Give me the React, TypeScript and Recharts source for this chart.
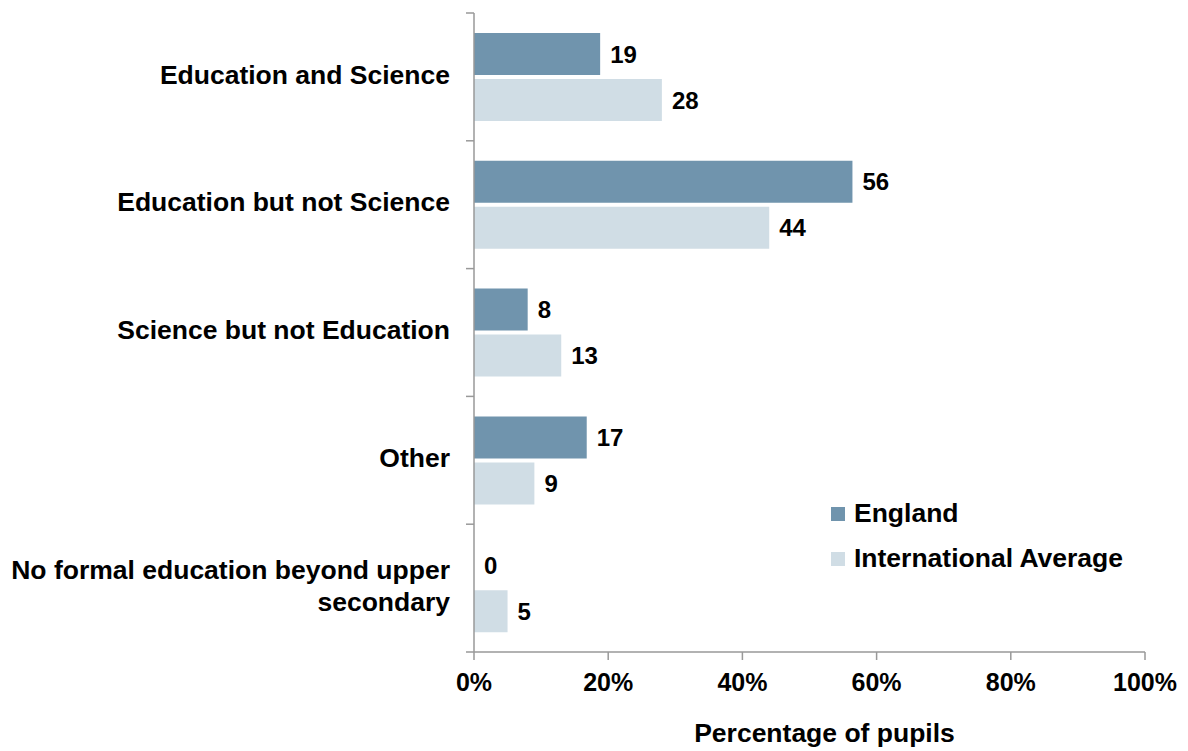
import React from 'react';
import { BarChart, Bar, XAxis, YAxis, LabelList } from 'recharts';

const categories = [
  'Education and Science',
  'Education but not Science',
  'Science but not Education',
  'Other',
  'No formal education beyond upper\nsecondary',
];
const england = [18.8, 56.4, 8, 16.8, 0];
const international = [28, 44, 13, 9, 5];
const xTicks = [0, 20, 40, 60, 80, 100];
const seriesNames = ['England', 'International Average'];
const colors = ['#7094AD', '#D0DDE5'];

const data = categories.map((c, i) => ({ name: c, england: england[i], intl: international[i] }));

const FONT = '"Liberation Sans", Arial, sans-serif';
const AXIS = '#999999';
const WORD_SIZE = 26.5;
const NUM_SIZE = 24;

const YTick = (props: any) => {
  const { x, y, payload, index } = props;
  const off = payload && typeof payload.offset === 'number' ? payload.offset : 64;
  const lines = String(payload.value).split('\n');
  const lh = 32;
  const startY = y - ((lines.length - 1) * lh) / 2;
  return (
    <g>
      <line x1={x + 2} x2={x + 10} y1={y - off} y2={y - off} stroke={AXIS} strokeWidth={1.5} />
      {index === categories.length - 1 && (
        <line x1={x + 2} x2={x + 10} y1={y + off} y2={y + off} stroke={AXIS} strokeWidth={1.5} />
      )}
      <text x={x - 14} y={startY} textAnchor="end" fontFamily={FONT} fontSize={WORD_SIZE} fontWeight="bold" fill="#000">
        {lines.map((l, i) => (
          <tspan key={i} x={x - 14} y={startY + i * lh} dy="0.25em">
            {l}
          </tspan>
        ))}
      </text>
    </g>
  );
};

const fmt = (v: any) => String(Math.round(Number(v)));

const ValueLabel = (props: any) => {
  const { x, y, width, height, value } = props;
  if (value === undefined || value === null) return null;
  const w = Number(value) === 0 ? 0 : Number(width);
  return (
    <text
      x={Number(x) + w + 10}
      y={Number(y) + Number(height) / 2}
      dy="0.355em"
      textAnchor="start"
      fontFamily={FONT}
      fontSize={NUM_SIZE}
      fontWeight="bold"
      fill="#000"
    >
      {fmt(value)}
    </text>
  );
};

const AxisTitle = (props: any) => {
  const vb = props.viewBox || {};
  return (
    <text
      x={vb.x + vb.width / 2 + 15}
      y={vb.y + vb.height - 9}
      textAnchor="middle"
      fontFamily={FONT}
      fontSize={WORD_SIZE}
      fontWeight="bold"
      fill="#000"
    >
      Percentage of pupils
    </text>
  );
};

export default function App() {
  return (
    <div style={{ position: 'relative', width: 1180, height: 743 }}>
      <BarChart
        width={1180}
        height={743}
        data={data}
        layout="vertical"
        margin={{ top: 5, right: 43, left: 0, bottom: 0 }}
        barCategoryGap={20}
        barGap={4}
      >
        <XAxis
          type="number"
          domain={[0, 100]}
          ticks={xTicks}
          tickFormatter={(v) => `${v}%`}
          height={99}
          tickSize={8}
          tickMargin={13}
          stroke={AXIS}
          axisLine={{ stroke: AXIS, strokeWidth: 1.5 }}
          tickLine={{ stroke: AXIS, strokeWidth: 1.5 }}
          tick={{ fontFamily: FONT, fontSize: 25, fontWeight: 'bold', fill: '#000' }}
          label={<AxisTitle />}
        />
        <YAxis
          type="category"
          dataKey="name"
          width={466}
          tickSize={8}
          tickMargin={2}
          tickLine={false}
          axisLine={{ stroke: AXIS, strokeWidth: 1.5 }}
          tick={<YTick />}
          interval={0}
        />
        <Bar
          dataKey="england"
          name={seriesNames[0]}
          fill={colors[0]}
          barSize={42}
          minPointSize={0.01}
          isAnimationActive={false}
        >
          <LabelList dataKey="england" content={<ValueLabel />} />
        </Bar>
        <Bar dataKey="intl" name={seriesNames[1]} fill={colors[1]} barSize={42} isAnimationActive={false}>
          <LabelList dataKey="intl" content={<ValueLabel />} />
        </Bar>
      </BarChart>
      <div
        style={{
          position: 'absolute',
          left: 823,
          top: 483,
          fontFamily: FONT,
          fontSize: WORD_SIZE,
          fontWeight: 'bold',
          color: '#000',
          whiteSpace: 'nowrap',
        }}
      >
        {seriesNames.map((n, i) => (
          <div key={n} style={{ display: 'flex', alignItems: 'center', height: 45 }}>
            <div style={{ width: 14, height: 14, background: colors[i], marginRight: 9, flexShrink: 0 }} />
            <span>{n}</span>
          </div>
        ))}
      </div>
    </div>
  );
}
